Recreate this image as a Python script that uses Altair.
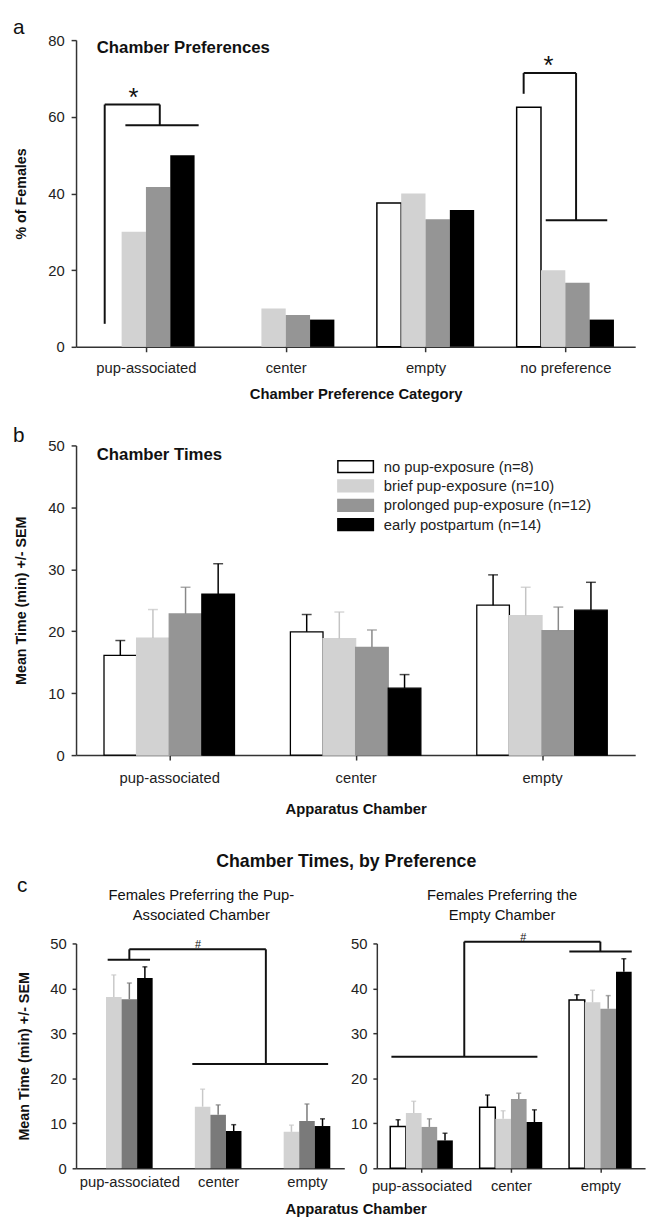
import json
import altair as alt
import pandas as pd

FONT = "Liberation Sans, Arial, Helvetica, sans-serif"

GROUPS = ["no pup-exposure (n=8)", "brief pup-exposure (n=10)",
          "prolonged pup-exposure (n=12)", "early postpartum (n=14)"]

# ---------------- panel a : % of females per preference category
A_CATS = ["pup-associated", "center", "empty", "no preference"]
A_NONE = [0.0, 0.0, 37.5, 62.5]
A_BRIEF = [30.0, 10.0, 40.0, 20.0]
A_PROL = [41.7, 8.3, 33.3, 16.7]
A_EARLY = [50.0, 7.1, 35.7, 7.1]
A_BR_X0 = [-0.295, -0.295, 0.099, -0.147, 2.702, 2.702, 3.077, 2.86]
A_BR_X1 = [-0.295, 0.099, 0.099, 0.377, 2.702, 3.077, 3.077, 3.30]
A_BR_Y0 = [6.0, 63.2, 63.2, 57.8, 66.0, 71.4, 71.4, 33.0]
A_BR_Y1 = [63.2, 63.2, 57.8, 57.8, 71.4, 71.4, 33.0, 33.0]
A_MARK_X = [-0.09, 2.88]
A_MARK_Y = [63.2, 71.4]
A_MARK_T = ["*", "*"]

# ---------------- panel b : chamber times (mean, SEM)
B_CATS = ["pup-associated", "center", "empty"]
B_NONE = [16.1, 19.9, 24.2]
B_NONE_SEM = [2.4, 2.8, 4.9]
B_BRIEF = [18.9, 18.8, 22.5]
B_BRIEF_SEM = [4.6, 4.3, 4.6]
B_PROL = [22.8, 17.4, 20.1]
B_PROL_SEM = [4.3, 2.8, 3.8]
B_EARLY = [26.0, 10.8, 23.4]
B_EARLY_SEM = [4.9, 2.2, 4.5]

# ---------------- panel c left : females preferring pup-associated chamber
CL_BRIEF = [38.1, 13.7, 8.1]
CL_BRIEF_SEM = [4.9, 3.9, 1.5]
CL_PROL = [37.6, 11.9, 10.5]
CL_PROL_SEM = [3.6, 2.2, 3.8]
CL_EARLY = [42.3, 8.3, 9.4]
CL_EARLY_SEM = [2.5, 1.4, 1.6]
CL_BR_X0 = [-0.244, 0.0, 0.0, 1.537, 0.709]
CL_BR_X1 = [0.233, 0.0, 1.537, 1.537, 2.238]
CL_BR_Y0 = [46.4, 46.4, 48.7, 48.7, 23.2]
CL_BR_Y1 = [46.4, 48.7, 48.7, 23.2, 23.2]
CL_MARK_X = [0.772]
CL_MARK_Y = [48.9]
CL_MARK_T = ["#"]

# ---------------- panel c right : females preferring empty chamber
CR_NONE = [9.3, 13.6, 37.4]
CR_NONE_SEM = [1.5, 2.7, 1.2]
CR_BRIEF = [12.3, 11.0, 36.9]
CR_BRIEF_SEM = [2.6, 1.8, 2.7]
CR_PROL = [9.2, 15.4, 35.5]
CR_PROL_SEM = [1.8, 1.3, 2.9]
CR_EARLY = [6.2, 10.3, 43.7]
CR_EARLY_SEM = [1.6, 2.7, 2.9]
CR_BR_X0 = [-0.337, 0.478, 0.478, 2.0, 1.653]
CR_BR_X1 = [1.296, 0.478, 2.0, 2.0, 2.351]
CR_BR_Y0 = [24.8, 24.8, 50.4, 50.4, 48.2]
CR_BR_Y1 = [24.8, 50.4, 50.4, 48.2, 48.2]
CR_MARK_X = [1.139]
CR_MARK_Y = [50.6]
CR_MARK_T = ["#"]

LETTERS = ["a", "b", "c"]
A_INNER_TITLE = "Chamber Preferences"
B_INNER_TITLE = "Chamber Times"
C_TITLE = "Chamber Times, by Preference"
CL_SUB = ["Females Preferring the Pup-", "Associated Chamber"]
CR_SUB = ["Females Preferring the", "Empty Chamber"]
X_TITLE_A = "Chamber Preference Category"
X_TITLE_BC = "Apparatus Chamber"
Y_TITLE_A = "% of Females"
Y_TITLE_BC = "Mean Time (min) +/- SEM"

WHITE, LIGHT, MID, DARK, BLACK = "#ffffff", "#d2d2d2", "#959595", "#7a7a7a", "#000000"


def bar_table(means, sems, names, fills, strokes, errs, bw):
    rows = []
    ng = len(means)
    for gi in range(ng):
        for ci, v in enumerate(means[gi]):
            if v <= 0:
                continue
            p = ci + (gi - (ng - 1) / 2) * bw
            s = sems[gi][ci] if sems else 0.0
            rows.append({"group": names[gi], "x": p - bw / 2, "x2": p + bw / 2, "xc": p,
                         "y": v, "y2": 0.0, "top": v + s, "fill": fills[gi],
                         "stroke": strokes[gi], "err": errs[gi],
                         "sw": 1.5 if fills[gi] == WHITE else 0.0})
    return pd.DataFrame(rows)


def xdef(field, domain, labels, title, tick_size, label_pad, title_pad, ticks=True):
    expr = json.dumps(labels) + "[datum.value]"
    ax = dict(values=list(range(len(labels))), labelExpr=expr, ticks=ticks,
              labelPadding=label_pad, labelFontSize=15, labelAngle=0, labelFlush=False,
              titleFontSize=15, titleFontWeight="bold", titlePadding=title_pad, grid=False)
    if ticks:
        ax["tickSize"] = tick_size
    ax["title"] = title
    return alt.X(field, type="quantitative",
                 scale=alt.Scale(domain=domain, nice=False, zero=False), axis=alt.Axis(**ax))


def ydef(field, domain, values, title, tick_size, label_pad, title_pad):
    return alt.Y(field, type="quantitative",
                 scale=alt.Scale(domain=domain, nice=False, zero=False),
                 axis=alt.Axis(values=values, title=title, tickSize=tick_size,
                               labelPadding=label_pad, labelFontSize=15,
                               titleFontSize=14.5, titleFontWeight="bold",
                               titlePadding=title_pad, grid=False))


def bracket_layer(x0, x1, y0, y1, X, Y):
    df = pd.DataFrame({"x": x0, "x2": x1, "y": y0, "y2": y1})
    return alt.Chart(df).mark_rule(strokeWidth=2, color="#111").encode(
        x=X("x"), x2="x2", y=Y("y"), y2="y2")


def mark_layer(xs, ys, ts, X, Y, size, dy=0):
    df = pd.DataFrame({"x": xs, "y": ys, "t": ts})
    return alt.Chart(df).mark_text(fontSize=size, baseline="alphabetic", color="#111", dy=dy).encode(
        x=X("x"), y=Y("y"), text="t:N")


def free_text(txt, x, y, size, weight="normal", align="left", line_height=None):
    kw = dict(fontSize=size, fontWeight=weight, align=align, baseline="alphabetic", color="#111")
    if line_height:
        kw["lineHeight"] = line_height
    df = pd.DataFrame({"t": [txt if isinstance(txt, str) else "\n".join(txt)]})
    return alt.Chart(df).mark_text(lineBreak="\n", **kw).encode(
        x=alt.value(x), y=alt.value(y), text="t:N")


def error_layers(df, X, Y, cap):
    rule = alt.Chart(df).mark_rule(strokeWidth=1.5).encode(
        x=X("xc"), y=Y("y"), y2="top", color=alt.Color("err:N", scale=None))
    tick = alt.Chart(df).mark_tick(orient="horizontal", size=cap, thickness=1.5).encode(
        x=X("xc"), y=Y("top"), color=alt.Color("err:N", scale=None))
    return [rule, tick]


# ---------------- panel a
BW_A = 0.174
a_df = bar_table([A_NONE, A_BRIEF, A_PROL, A_EARLY], None, GROUPS,
                 [WHITE, LIGHT, MID, BLACK], [BLACK, LIGHT, MID, BLACK],
                 [BLACK, LIGHT, MID, BLACK], BW_A)
XA = lambda f: xdef(f, [-0.5, 3.5], A_CATS, X_TITLE_A, 5, 9, 11)
YA = lambda f: ydef(f, [0, 80], [0, 20, 40, 60, 80], Y_TITLE_A, 5, 7, 20)
a_bars = alt.Chart(a_df).mark_rect().encode(
    x=XA("x"), x2="x2", y=YA("y"), y2="y2",
    fill=alt.Fill("fill:N", scale=None), stroke=alt.Stroke("stroke:N", scale=None),
    strokeWidth=alt.StrokeWidth("sw:Q", scale=None))
panel_a = alt.layer(
    a_bars,
    bracket_layer(A_BR_X0, A_BR_X1, A_BR_Y0, A_BR_Y1, XA, YA),
    mark_layer(A_MARK_X, A_MARK_Y, A_MARK_T, XA, YA, 26, dy=1),
    free_text(LETTERS[0], -64, -6, 21),
    free_text(A_INNER_TITLE, 21, 13, 17, "bold"),
).properties(width=567, height=311)

# ---------------- panel b
BW_B = 0.175
b_df = bar_table([B_NONE, B_BRIEF, B_PROL, B_EARLY],
                 [B_NONE_SEM, B_BRIEF_SEM, B_PROL_SEM, B_EARLY_SEM], GROUPS,
                 [WHITE, LIGHT, MID, BLACK], [BLACK, LIGHT, MID, BLACK],
                 [BLACK, "#c4c4c4", "#888888", BLACK], BW_B)
XB = lambda f: xdef(f, [-0.5, 2.5], B_CATS, X_TITLE_BC, 5, 11, 16)
YB = lambda f: ydef(f, [0, 50], [0, 10, 20, 30, 40, 50], Y_TITLE_BC, 5, 7, 20)
leg = dict(orient="none", legendX=276, legendY=14, title=None,
           symbolType="M-3,-1H3V1H-3Z", symbolSize=144, symbolStrokeWidth=1.5,
           labelFontSize=15, labelFont=FONT, labelColor="#222", rowPadding=0.6,
           labelOffset=21, labelLimit=400)
b_bars = alt.Chart(b_df).mark_rect(strokeWidth=1.3).encode(
    x=XB("x"), x2="x2", y=YB("y"), y2="y2",
    fill=alt.Fill("group:N", scale=alt.Scale(domain=GROUPS, range=[WHITE, LIGHT, MID, BLACK]),
                  sort=GROUPS, legend=alt.Legend(**leg)),
    stroke=alt.Stroke("group:N", scale=alt.Scale(domain=GROUPS, range=[BLACK, LIGHT, MID, BLACK]),
                      sort=GROUPS, legend=alt.Legend(**leg)))
panel_b = alt.layer(
    b_bars, *error_layers(b_df, XB, YB, 10),
    free_text(LETTERS[1], -64, -3, 21),
    free_text(B_INNER_TITLE, 21, 15, 17, "bold"),
).properties(width=567, height=314)

# ---------------- panel c left
BW_C = 0.175
cl_df = bar_table([CL_BRIEF, CL_PROL, CL_EARLY], [CL_BRIEF_SEM, CL_PROL_SEM, CL_EARLY_SEM],
                  GROUPS[1:], [LIGHT, DARK, BLACK], [LIGHT, DARK, BLACK],
                  ["#c8c8c8", "#7a7a7a", BLACK], BW_C)
XCL = lambda f: xdef(f, [-0.6, 2.42], B_CATS, None, 0, 6, 0, ticks=False)
YCL = lambda f: ydef(f, [0, 50], [0, 10, 20, 30, 40, 50], Y_TITLE_BC, 4, 6, 19)
cl_bars = alt.Chart(cl_df).mark_rect().encode(
    x=XCL("x"), x2="x2", y=YCL("y"), y2="y2",
    fill=alt.Fill("fill:N", scale=None), stroke=alt.Stroke("stroke:N", scale=None),
    strokeWidth=alt.StrokeWidth("sw:Q", scale=None))
panel_cl = alt.layer(
    cl_bars, *error_layers(cl_df, XCL, YCL, 5),
    bracket_layer(CL_BR_X0, CL_BR_X1, CL_BR_Y0, CL_BR_Y1, XCL, YCL),
    mark_layer(CL_MARK_X, CL_MARK_Y, CL_MARK_T, XCL, YCL, 11),
    free_text(LETTERS[2], -60, -52, 21),
    free_text(CL_SUB, 127, -44, 15, align="center", line_height=20),
    free_text(C_TITLE, 274, -78, 18, "bold", align="center"),
    free_text(X_TITLE_BC, 284, 274, 15, "bold", align="center"),
).properties(width=272, height=228)

# ---------------- panel c right
cr_df = bar_table([CR_NONE, CR_BRIEF, CR_PROL, CR_EARLY],
                  [CR_NONE_SEM, CR_BRIEF_SEM, CR_PROL_SEM, CR_EARLY_SEM], GROUPS,
                  [WHITE, LIGHT, "#999999", BLACK], [BLACK, LIGHT, "#999999", BLACK],
                  [BLACK, "#c8c8c8", "#888888", BLACK], BW_C)
XCR = lambda f: xdef(f, [-0.5, 2.5], B_CATS, None, 4, 7, 0)
YCR = lambda f: ydef(f, [0, 50], [0, 10, 20, 30, 40, 50], None, 4, 6, 0)
cr_bars = alt.Chart(cr_df).mark_rect().encode(
    x=XCR("x"), x2="x2", y=YCR("y"), y2="y2",
    fill=alt.Fill("fill:N", scale=None), stroke=alt.Stroke("stroke:N", scale=None),
    strokeWidth=alt.StrokeWidth("sw:Q", scale=None))
panel_cr = alt.layer(
    cr_bars, *error_layers(cr_df, XCR, YCR, 5),
    bracket_layer(CR_BR_X0, CR_BR_X1, CR_BR_Y0, CR_BR_Y1, XCR, YCR),
    mark_layer(CR_MARK_X, CR_MARK_Y, CR_MARK_T, XCR, YCR, 11),
    free_text(CR_SUB, 127, -44, 15, align="center", line_height=20),
).properties(width=272, height=228)

panel_c = alt.hconcat(panel_cl, panel_cr, spacing=33, bounds="flush")

top = alt.vconcat(panel_a, panel_b, spacing=25).resolve_scale(fill="independent", stroke="independent")

chart = alt.vconcat(top, panel_c, spacing=37).resolve_scale(
    fill="independent", stroke="independent"
).properties(
    padding={"left": 5, "top": 1, "right": 5, "bottom": 5}
).configure(font=FONT).configure_view(stroke=None).configure_axis(
    domainColor="#333", domainWidth=1.5, tickColor="#333", tickWidth=1.5,
    labelFont=FONT, titleFont=FONT, labelColor="#222", titleColor="#111"
).configure_text(font=FONT)

chart.save("out.html", embed_options={"renderer": "svg", "actions": False})
